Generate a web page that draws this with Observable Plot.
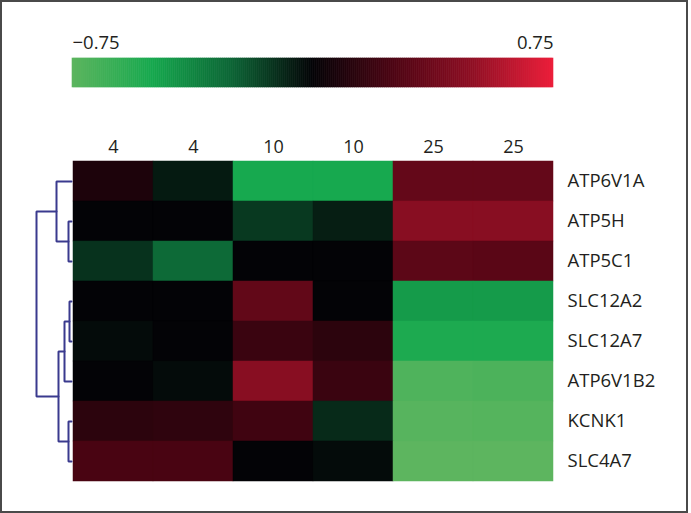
<!DOCTYPE html>
<html>
<head>
<meta charset="utf-8">
<script src="https://cdn.jsdelivr.net/npm/d3@7"></script>
<script src="https://cdn.jsdelivr.net/npm/@observablehq/plot@0.6"></script>
<style>
  html, body { margin: 0; padding: 0; background: #fff; }
  #wrap { position: relative; width: 691px; height: 513px; overflow: hidden; font-family: "Open Sans", sans-serif; }
  #wrap > div.layer { position: absolute; left: 0; top: 0; }
  #frame { position: absolute; left: 0; top: 0; width: 688px; height: 513px; box-sizing: border-box; border: 2px solid #4a4a4a; pointer-events: none; }
</style>
</head>
<body>
<div id="wrap">
  <div class="layer" id="legend"></div>
  <div class="layer" id="heat"></div>
  <div class="layer" id="dendro"></div>
  <div id="frame"></div>
</div>
<script>
// ---- data ----
const colLabels = ["4", "4", "10", "10", "25", "25"];
const genes = ["ATP6V1A", "ATP5H", "ATP5C1", "SLC12A2", "SLC12A7", "ATP6V1B2", "KCNK1", "SLC4A7"];
const values = [
  [0.09, -0.06, -0.50, -0.50, 0.34, 0.34],   // ATP6V1A
  [0.00, 0.00, -0.14, -0.07, 0.47, 0.47],    // ATP5H
  [-0.12, -0.27, 0.00, 0.00, 0.31, 0.30],    // ATP5C1
  [0.00, 0.00, 0.33, 0.00, -0.45, -0.45],    // SLC12A2
  [-0.02, 0.00, 0.19, 0.14, -0.52, -0.52],   // SLC12A7
  [0.00, -0.02, 0.47, 0.19, -0.70, -0.69],   // ATP6V1B2
  [0.14, 0.15, 0.21, -0.10, -0.73, -0.72],   // KCNK1
  [0.24, 0.24, 0.00, -0.02, -0.75, -0.75]    // SLC4A7
];
// dendrogram merges (n1..n7 in order)
const mergeA = ["ATP5H", "ATP6V1A", "SLC12A2", "n3", "KCNK1", "n4", "n2"];
const mergeB = ["ATP5C1", "n1", "SLC12A7", "ATP6V1B2", "SLC4A7", "n5", "n6"];
const mergeHeight = [3, 15, 2, 7, 3, 13, 35];
// colour scale
const colorStops = [-0.75, -0.5, -0.25, 0, 0.25, 0.5, 0.75];
const colorRange = ["#5db55f", "#17a94f", "#0c6435", "#030306", "#4c0413", "#900f24", "#ec1f3b"];
const legendTicks = [-0.75, 0.75];

// ---- derived tables ----
const cells = [];
genes.forEach((g, r) => values[r].forEach((v, c) => cells.push({gene: g, col: c, value: v})));

const colorScale = {type: "linear", domain: colorStops, range: colorRange, interpolate: "rgb"};
const textColor = "#231f20";
const font = "'Open Sans', sans-serif";

// ---- legend ----
const lo = colorStops[0], hi = colorStops[colorStops.length - 1];
const steps = d3.range(240).map(i => ({x1: lo + (hi - lo) * i / 240, x2: lo + (hi - lo) * (i + 1) / 240}));
const legend = Plot.plot({
  width: 691, height: 100,
  marginLeft: 72, marginRight: 138, marginTop: 58, marginBottom: 13,
  style: {background: "transparent", fontFamily: font, overflow: "visible"},
  x: {domain: [lo, hi], axis: null},
  y: {domain: [0, 1], axis: null},
  color: colorScale,
  marks: [
    Plot.rect(steps, {x1: "x1", x2: "x2", y1: 0, y2: 1, fill: d => (d.x1 + d.x2) / 2, stroke: d => (d.x1 + d.x2) / 2, strokeWidth: 0.6}),
    Plot.text([legendTicks[0]], {x: d => d, frameAnchor: "top", textAnchor: "start", lineAnchor: "bottom", dy: -10, text: d => d3.format(".2f")(d).replace("-", "\u2212"), fontSize: 18.5, fill: textColor}),
    Plot.text([legendTicks[1]], {x: d => d, frameAnchor: "top", textAnchor: "end", lineAnchor: "bottom", dy: -10, text: d => d3.format(".2f")(d), fontSize: 18.5, fill: textColor})
  ]
});
document.getElementById("legend").appendChild(legend);

// ---- heatmap ----
const heat = Plot.plot({
  width: 691, height: 513,
  marginLeft: 71, marginRight: 137, marginTop: 161, marginBottom: 32,
  style: {background: "transparent", fontFamily: font, overflow: "visible"},
  x: {domain: d3.range(colLabels.length), padding: 0, label: null},
  y: {domain: genes, padding: 0, label: null},
  color: colorScale,
  marks: [
    Plot.cell(cells, {x: "col", y: "gene", fill: "value", inset: 0, stroke: "value", strokeWidth: 0.5}),
    Plot.axisX({anchor: "top", tickSize: 0, tickPadding: 9, tickFormat: i => colLabels[i], fontSize: 18, fill: textColor, label: null}),
    Plot.axisY({anchor: "right", tickSize: 0, tickPadding: 13, fontSize: 18.5, fill: textColor, label: null})
  ]
});
document.getElementById("heat").appendChild(heat);

// ---- dendrogram ----
const pos = {};
genes.forEach((g, i) => pos[g] = {h: 0, y: i + 0.5});
const links = [];
mergeA.forEach((a, k) => {
  const b = mergeB[k], h = mergeHeight[k], name = "n" + (k + 1);
  const pa = pos[a], pb = pos[b];
  links.push({id: name, h: pa.h, y: pa.y}, {id: name, h: h, y: pa.y}, {id: name, h: h, y: pb.y}, {id: name, h: pb.h, y: pb.y});
  pos[name] = {h: h, y: (pa.y + pb.y) / 2};
});
const dendro = Plot.plot({
  width: 71, height: 513,
  marginLeft: 36, marginRight: 0, marginTop: 161, marginBottom: 32,
  style: {background: "transparent", overflow: "visible"},
  x: {domain: [0, d3.max(mergeHeight)], reverse: true, axis: null},
  y: {domain: [0, genes.length], reverse: true, axis: null},
  marks: [
    Plot.line(links, {x: "h", y: "y", z: "id", stroke: "#3a3a8e", strokeWidth: 2, curve: "linear", strokeLinejoin: "miter"})
  ]
});
document.getElementById("dendro").appendChild(dendro);
</script>
</body>
</html>
